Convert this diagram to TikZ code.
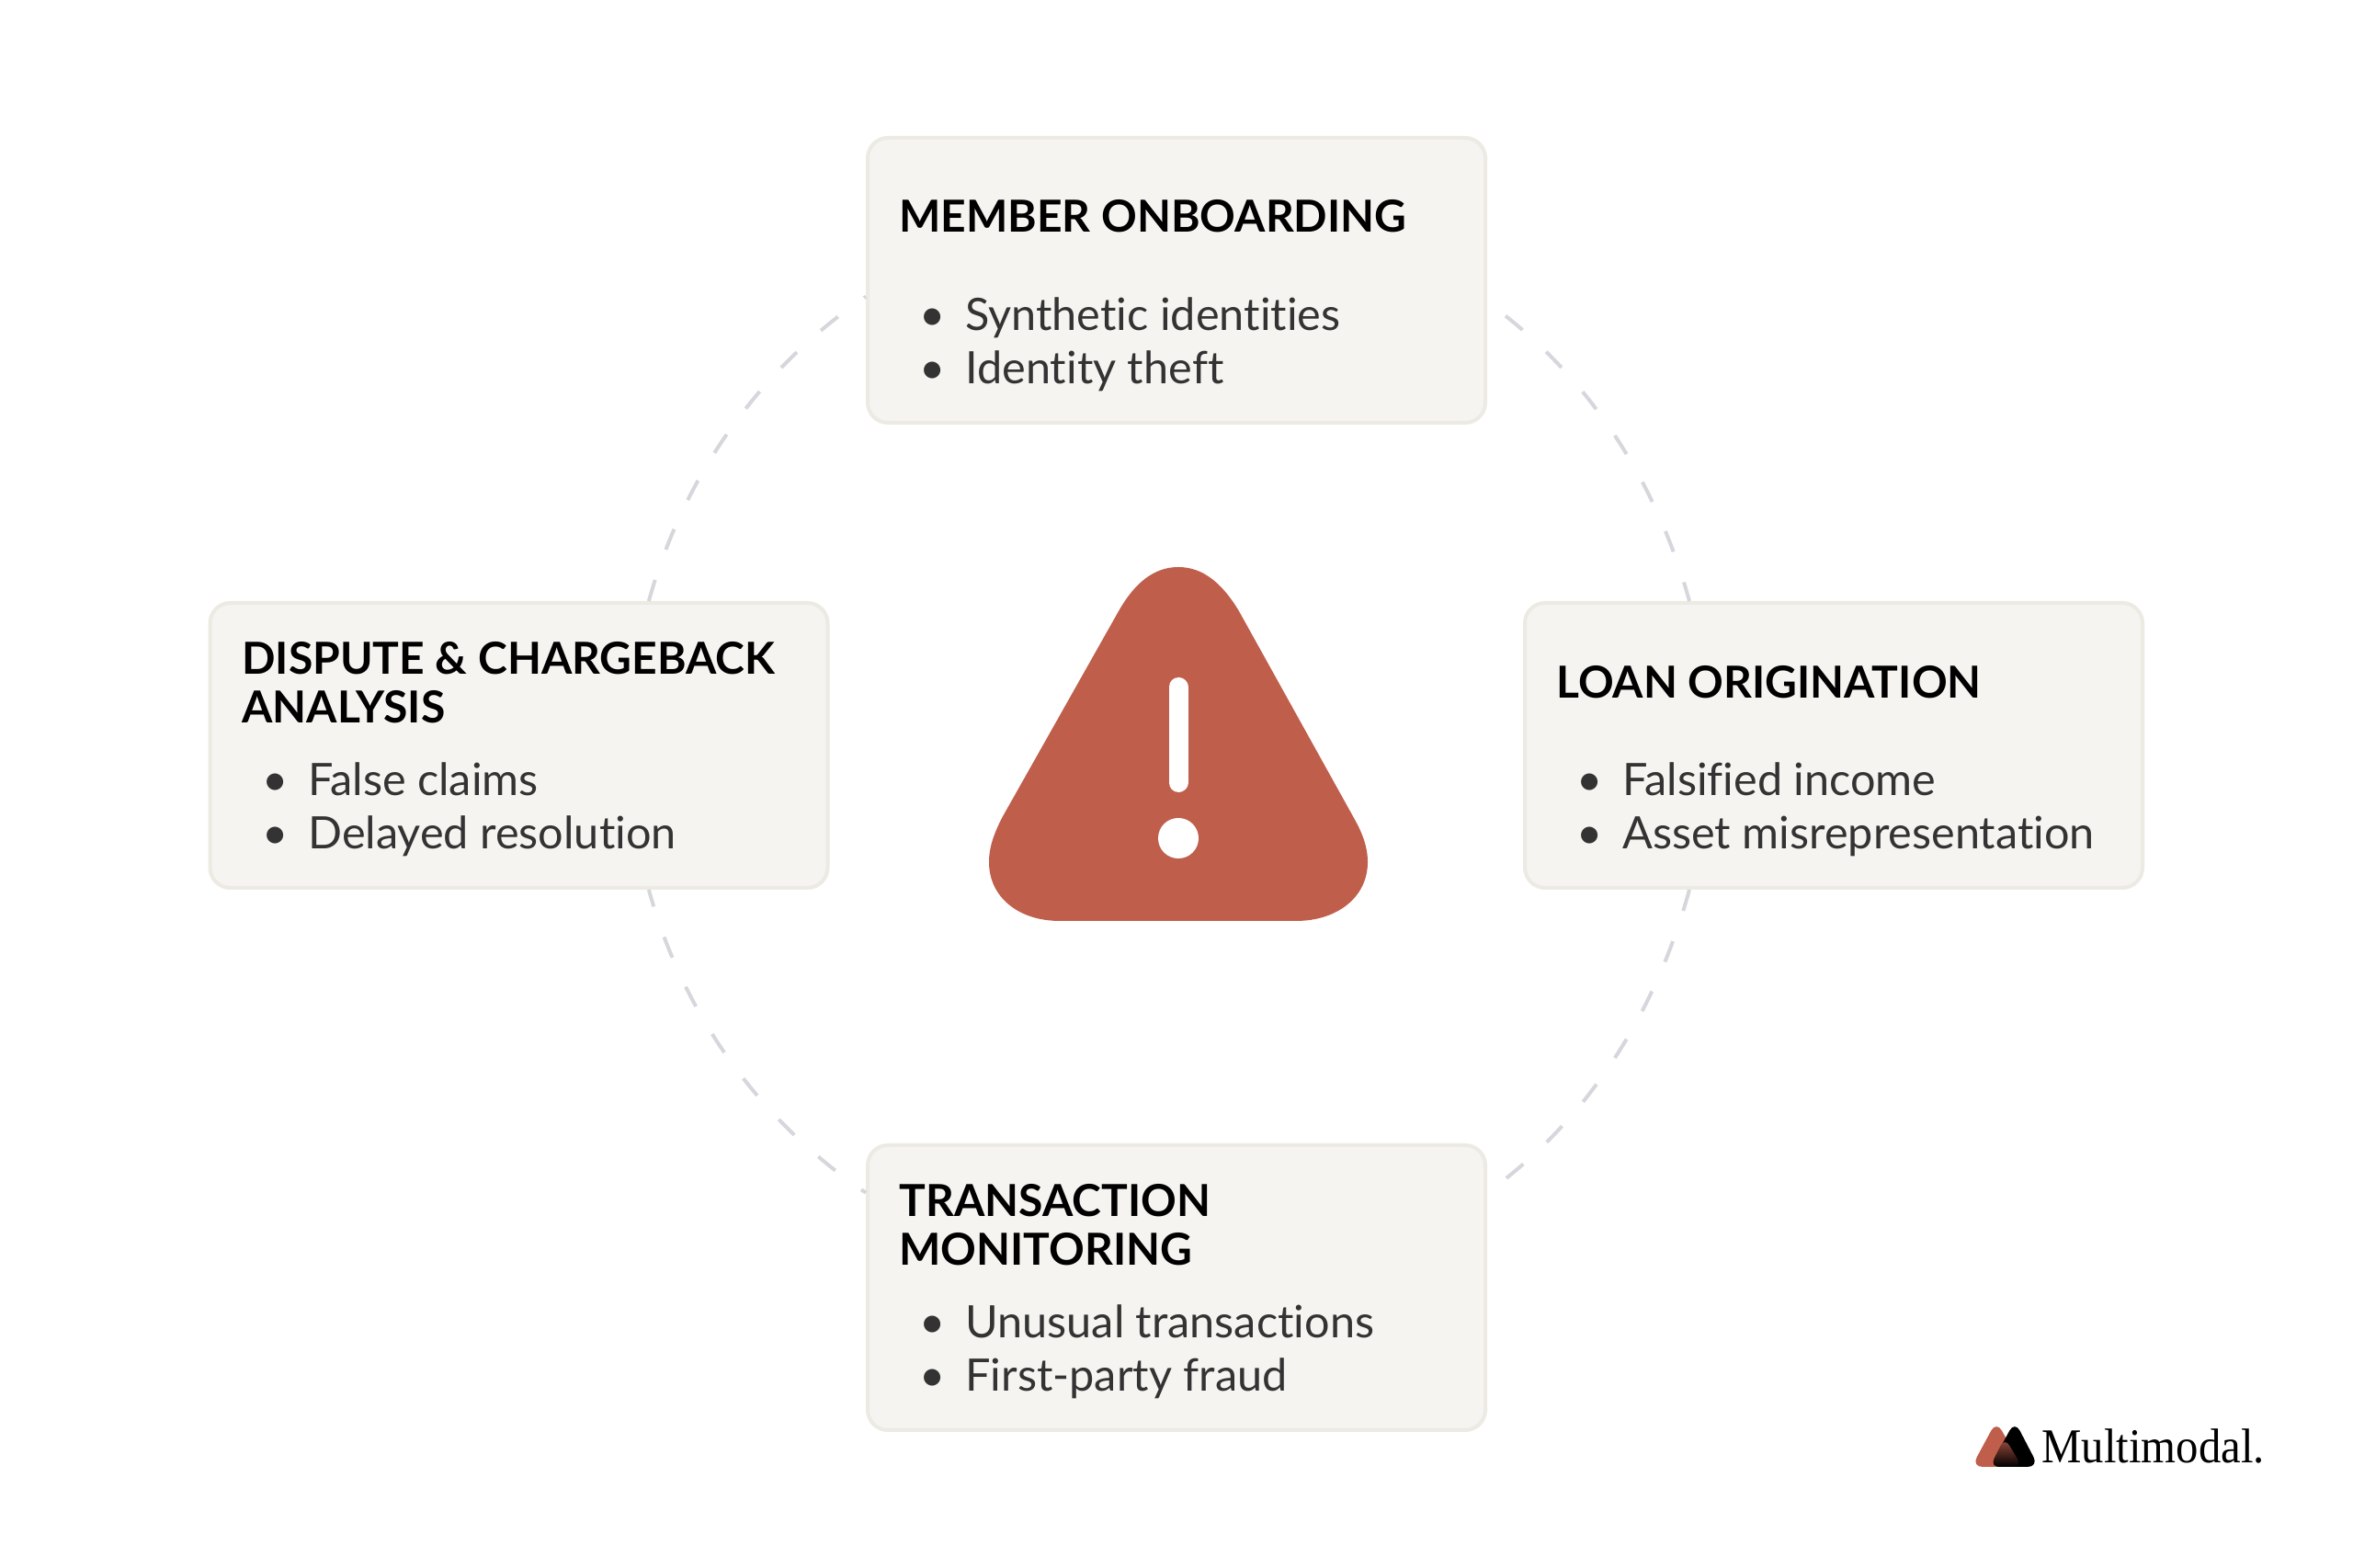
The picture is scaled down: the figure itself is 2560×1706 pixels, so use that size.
\documentclass[tikz,border=0pt]{standalone}
\usepackage{fontspec}
\setmainfont[Ligatures=NoCommon]{Lato}
\newfontfamily\logofont{Liberation Serif}
\definecolor{riskred}{HTML}{C05E4C}
\definecolor{boxfill}{HTML}{F5F4F1}
\definecolor{boxedge}{HTML}{ECEAE3}
\definecolor{ringgray}{HTML}{D5D7DC}
\definecolor{listgray}{HTML}{333333}
\newcommand{\riskitem}[1]{\makebox[25pt][l]{\textbullet}#1}
\tikzset{
  riskbox/.style={draw=boxedge, line width=2pt, fill=boxfill, rounded corners=11pt, minimum width=336pt, minimum height=155pt, inner sep=0pt},
  risktitle/.style={anchor=north west, inner sep=0pt, align=left, text=black, font=\fontsize{24}{26.5}\selectfont\bfseries},
  risklist/.style={anchor=north west, inner sep=0pt, align=left, text=listgray, font=\fontsize{24.3}{29.4}\selectfont},
  ringline/.style={draw=ringgray, line width=2pt, dash pattern=on 12pt off 17.5pt, looseness=0.88}
}
\begin{document}
\begin{tikzpicture}[x=0.5pt, y=0.5pt]
\useasboundingbox (0,0) rectangle (2560,1706);
% Boxes
\node[riskbox] (member) at (1280,1401) {};
\node[riskbox] (dispute) at (564.5,895) {};
\node[riskbox] (loan) at (1995,895) {};
\node[riskbox] (transaction) at (1280,305) {};
% Ring between the boxes
\draw[ringline] (dispute.48) to[out=74.5, in=214] (member.183);
\draw[ringline, dash phase=17pt] (member.-4.8) to[out=-35.7, in=105.5] (loan.135.5);
\draw[ringline] (loan.225) to[out=-105.3, in=35.7] (transaction.17);
\draw[ringline, dash phase=9pt] (transaction.163.4) to[out=146, in=-74.7] (dispute.312);
% Box texts
\node[risktitle] (membertitle) at (978,1489) {MEMBER ONBOARDING};
\node[risklist] (memberlist) at (1000,1383) {\riskitem{Synthetic identities}\\\riskitem{Identity theft}};
\node[risktitle] (disputetitle) at (263,1008) {DISPUTE \& CHARGEBACK\\ANALYSIS};
\node[risklist] (disputelist) at (285,877) {\riskitem{False claims}\\\riskitem{Delayed resolution}};
\node[risktitle] (loantitle) at (1693,982) {LOAN ORIGINATION};
\node[risklist] (loanlist) at (1715,877) {\riskitem{Falsified income}\\\riskitem{Asset misrepresentation}};
\node[risktitle] (transactiontitle) at (978,418) {TRANSACTION\\MONITORING};
\node[risklist] (transactionlist) at (1000,287) {\riskitem{Unusual transactions}\\\riskitem{First-party fraud}};
% Warning sign
\fill[riskred] (1217,1041) .. controls (1234,1071) and (1255,1089) .. (1282,1089)
  .. controls (1309,1089) and (1330,1071) .. (1348,1041) -- (1473,816)
  .. controls (1482,800) and (1488,785) .. (1488,768)
  .. controls (1488,730) and (1455,704) .. (1410,704) -- (1153,704)
  .. controls (1108,704) and (1076,730) .. (1076,768)
  .. controls (1076,785) and (1082,800) .. (1090,816) -- cycle;
\draw[white, line width=10.5pt, line cap=round] (1282,958.5) -- (1282,854.5);
\fill[white] (1282,794) circle (22);
% Logo
\fill[riskred, rounded corners=6pt] (2172,160) -- (2145,110) -- (2200,110) -- cycle;
\fill[black, rounded corners=6pt] (2192,160) -- (2165,110) -- (2218,110) -- cycle;
\shade[top color=riskred!85!black, bottom color=black, rounded corners=5pt] (2181,142) -- (2165,110) -- (2200,110) -- cycle;
\node[anchor=base west, inner sep=0pt, font=\logofont\fontsize{26.5}{28}\selectfont] (logotext) at (2221,114) {\scalebox{0.92}[1]{Multimodal.}};
\end{tikzpicture}
\end{document}
